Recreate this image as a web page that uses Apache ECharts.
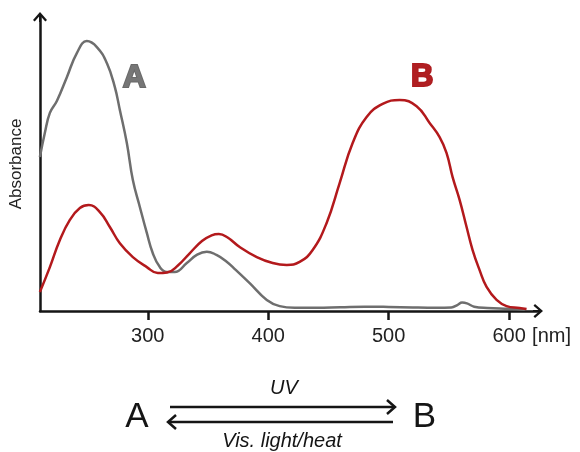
<!DOCTYPE html>
<html>
<head>
<meta charset="utf-8">
<script src="https://cdn.jsdelivr.net/npm/echarts@6/dist/echarts.min.js"></script>
<style>
  html, body { margin: 0; padding: 0; background: #fff; }
  #chart { width: 580px; height: 452px; }
</style>
</head>
<body>
<div id="chart"></div>
<script>
// Absorption spectra of the two photoswitch states (wavelength in nm, absorbance in a.u.)
const wavelengthTicks = [300, 400, 500, 600];

const spectrumA = [
  [210.4, 0.568], [214.5, 0.657], [218.7, 0.731], [224.5, 0.775], [232.8, 0.863],
  [241.1, 0.952], [249.4, 0.996], [257.7, 0.974], [266, 0.915], [272.6, 0.827],
  [276.8, 0.742], [282.6, 0.62], [287.6, 0.483], [293.4, 0.384], [299.2, 0.288],
  [304.1, 0.214], [310, 0.162], [315.8, 0.144], [322.4, 0.144], [332.4, 0.177],
  [341, 0.208], [349, 0.219], [357, 0.207], [365, 0.184], [373, 0.152], [384.6, 0.103],
  [398.8, 0.041], [409.5, 0.018], [422, 0.012], [440, 0.012], [460, 0.014],
  [480, 0.016], [500, 0.015], [520, 0.013], [540, 0.012], [552, 0.013],
  [557, 0.022], [561, 0.031], [565, 0.028], [571, 0.016], [582, 0.011],
  [600, 0.008], [613, 0.005]
];

const spectrumB = [
  [210.4, 0.07], [218.7, 0.162], [227, 0.262], [235.3, 0.336], [243.6, 0.38],
  [251, 0.391], [260.2, 0.365], [268.5, 0.31], [276.8, 0.25], [287.6, 0.199],
  [299.2, 0.162], [308.3, 0.14], [316, 0.142], [325, 0.168], [335, 0.214],
  [345, 0.258], [353, 0.279], [359, 0.284], [366, 0.272], [376.3, 0.236],
  [390.5, 0.199], [403.7, 0.177], [415.4, 0.17], [426.1, 0.181], [436.9, 0.225],
  [448.5, 0.325], [459.3, 0.472], [470.1, 0.62], [481.7, 0.716], [495, 0.764],
  [509.1, 0.779], [523.2, 0.756], [534, 0.694], [542.3, 0.642], [548.1, 0.583],
  [553.1, 0.494], [558.9, 0.41], [564.7, 0.31], [569.7, 0.225], [575.5, 0.151],
  [581.3, 0.089], [589.6, 0.041], [597.9, 0.018], [608.7, 0.011], [614.5, 0.007]
];

// Where the big state letters sit, in data coordinates
const labelA = [288.8, 0.86];
const labelB = [527.8, 0.863];

const FONT = '"Liberation Sans", Arial, Helvetica, sans-serif';
const INK = '#151515';
const GREY = '#6e6e6e';
const RED = '#b3191c';

// Open chevron arrow head (tip pointing up) with a short stem
const CHEVRON = 'path://M0,8 L7,0 L14,8 L12.3,9.5 L7,3.4 L1.7,9.5 Z M6,2 L8,2 L8,10 L6,10 Z';

const chart = echarts.init(document.getElementById('chart'), null, { renderer: 'canvas' });

const option = {
  animation: false,
  backgroundColor: '#ffffff',
  grid: {
    left: 40, right: 42, top: 17, bottom: 141,
    containLabel: false,
    outerBoundsMode: 'none'
  },
  xAxis: {
    type: 'value',
    min: 210.5,
    max: 624,
    axisLine: {
      show: true,
      symbol: ['none', CHEVRON],
      symbolSize: [14, 10],
      lineStyle: { color: INK, width: 2.5 }
    },
    axisTick: {
      show: true,
      customValues: wavelengthTicks,
      length: 9,
      inside: false,
      lineStyle: { color: INK, width: 2.5 }
    },
    axisLabel: {
      show: true,
      customValues: wavelengthTicks,
      margin: 15,
      fontSize: 20,
      fontFamily: FONT,
      color: '#222'
    },
    splitLine: { show: false }
  },
  yAxis: {
    type: 'value',
    min: 0,
    max: 1.085,
    name: 'Absorbance',
    nameLocation: 'middle',
    nameGap: 15,
    nameTextStyle: { fontSize: 17, fontFamily: FONT, color: '#222' },
    axisLine: {
      show: true,
      symbol: ['none', CHEVRON],
      symbolSize: [14, 10],
      lineStyle: { color: INK, width: 2.5 }
    },
    axisTick: { show: false },
    axisLabel: { show: false },
    splitLine: { show: false }
  },
  series: [
    {
      name: 'A',
      type: 'line',
      data: spectrumA,
      smooth: 0.45,
      showSymbol: false,
      lineStyle: { color: GREY, width: 2.5 },
      z: 3,
      markPoint: {
        symbol: 'circle',
        symbolSize: 1,
        itemStyle: { color: 'rgba(0,0,0,0)' },
        label: {
          show: true,
          position: 'inside',
          formatter: 'A',
          fontSize: 32,
          fontWeight: 'bold',
          fontFamily: FONT,
          color: '#767676',
          textBorderColor: '#6a6a6a',
          textBorderWidth: 2
        },
        data: [{ coord: labelA }]
      }
    },
    {
      name: 'B',
      type: 'line',
      data: spectrumB,
      smooth: 0.45,
      showSymbol: false,
      lineStyle: { color: RED, width: 2.5 },
      z: 4,
      markPoint: {
        symbol: 'circle',
        symbolSize: 1,
        itemStyle: { color: 'rgba(0,0,0,0)' },
        label: {
          show: true,
          position: 'inside',
          formatter: 'B',
          fontSize: 31,
          fontWeight: 'bold',
          fontFamily: FONT,
          color: '#b01f22',
          textBorderColor: '#ad1c1f',
          textBorderWidth: 2
        },
        data: [{ coord: labelB }]
      }
    }
  ]
};

chart.setOption(option);

// Unit after the last tick label, and the A <-> B switching scheme underneath
const tick600 = chart.convertToPixel({ xAxisIndex: 0 }, 600);
const axisY = chart.convertToPixel({ yAxisIndex: 0 }, 0);

const schemeText = (text, x, y, size, italic) => ({
  type: 'text',
  x: x, y: y,
  style: {
    text: text,
    font: (italic ? 'italic ' : '') + size + 'px ' + FONT,
    fill: INK,
    align: 'center',
    verticalAlign: 'middle'
  }
});

const stroke = { stroke: INK, lineWidth: 2.5, fill: null, lineJoin: 'miter' };

chart.setOption({
  graphic: [
    {
      type: 'text',
      x: tick600 + 23,
      y: axisY + 25,
      style: {
        text: '[nm]',
        font: '20px ' + FONT,
        fill: '#222',
        align: 'left',
        verticalAlign: 'middle'
      }
    },
    schemeText('A', 137, 417, 35, false),
    schemeText('B', 424.5, 417, 35, false),
    schemeText('UV', 284, 388, 20, true),
    schemeText('Vis. light/heat', 282, 441, 20, true),
    { type: 'polyline', shape: { points: [[170, 407], [394, 407]] }, style: stroke },
    { type: 'polyline', shape: { points: [[387, 400], [395, 407], [387, 414]] }, style: stroke },
    { type: 'polyline', shape: { points: [[169, 422], [393, 422]] }, style: stroke },
    { type: 'polyline', shape: { points: [[176, 415], [168, 422], [176, 429]] }, style: stroke }
  ]
});
</script>
</body>
</html>
